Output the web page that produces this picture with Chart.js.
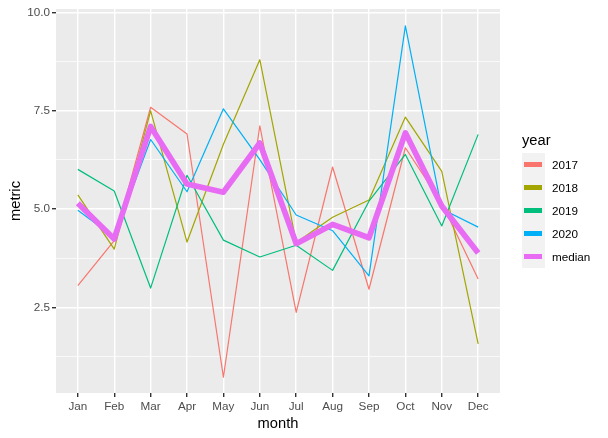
<!DOCTYPE html>
<html>
<head>
<meta charset="utf-8">
<script src="https://cdn.jsdelivr.net/npm/chart.js@4/dist/chart.umd.min.js"></script>
<style>
body { margin: 0; background: #fff; }
#wrap { position: relative; width: 608px; height: 438px; font-family: "Liberation Sans", Arial, sans-serif; }
#legendTitle { position: absolute; left: 522px; top: 132px; font-size: 14.7px; line-height: 17px; color: #000; }
#legendKeys { position: absolute; left: 522px; top: 153px; width: 23px; background: #F2F2F2; }
.key { position: relative; width: 23px; height: 23px; }
.key span { position: absolute; left: 2px; top: 9px; width: 18px; height: 5px; }
.lab { position: absolute; left: 552px; font-size: 11.7px; line-height: 14px; color: #000; }
</style>
</head>
<body>
<div id="wrap">
  <canvas id="chart" width="608" height="438"></canvas>
  <div id="legendTitle">year</div>
  <div id="legendKeys"></div>
</div>
<script>
var months = ["Jan","Feb","Mar","Apr","May","Jun","Jul","Aug","Sep","Oct","Nov","Dec"];
var seriesNames = ["2017","2018","2019","2020","median"];
var seriesColors = ["#F8766D","#A3A500","#00BF7D","#00B0F6","#E76BF3"];

var v2017 = [3.05, 4.20, 7.59, 6.91, 0.72, 7.12, 2.37, 6.07, 2.96, 6.56, 5.15, 3.22];
var v2018 = [5.36, 3.98, 7.50, 4.16, 6.65, 8.80, 4.15, 4.79, 5.23, 7.34, 5.96, 1.57];
var v2019 = [6.01, 5.46, 2.99, 5.86, 4.21, 3.78, 4.08, 3.44, 5.20, 6.39, 4.57, 6.90];
var v2020 = [4.97, 4.28, 6.77, 5.44, 7.55, 6.26, 4.85, 4.45, 3.30, 9.66, 5.00, 4.54];
var vMedian = [5.15, 4.24, 7.10, 5.64, 5.43, 6.68, 4.12, 4.61, 4.27, 6.94, 5.08, 3.88];

var yTicks = [1.25, 2.5, 3.75, 5, 6.25, 7.5, 8.75, 10];
var yMajor = [2.5, 5, 7.5, 10];

var allValues = [v2017, v2018, v2019, v2020, vMedian];
var lineWidths = [1.2, 1.2, 1.2, 1.2, 5.7];
var drawOrder = [4, 3, 2, 1, 0];

function toPoints(vals) {
    return vals.map(function (v, i) { return {x: i, y: v}; });
}

var datasets = seriesNames.map(function (name, k) {
    return {
        label: name,
        data: toPoints(allValues[k]),
        borderColor: seriesColors[k],
        backgroundColor: seriesColors[k],
        borderWidth: lineWidths[k],
        pointRadius: 0,
        tension: 0,
        fill: false,
        borderJoinStyle: "round",
        order: drawOrder[k]
    };
});

// legend in html, ggplot style
var keys = document.getElementById("legendKeys");
var wrap = document.getElementById("wrap");
seriesNames.forEach(function (name, k) {
    var key = document.createElement("div");
    key.className = "key";
    var sw = document.createElement("span");
    sw.style.background = seriesColors[k];
    key.append(sw);
    keys.append(key);
    var lab = document.createElement("div");
    lab.className = "lab";
    lab.textContent = name;
    lab.style.top = (153 + k * 23 + 11.5 - 7) + "px";
    wrap.append(lab);
});

var panelBg = {
    id: "panelBg",
    beforeDraw: function (chart) {
        var a = chart.chartArea;
        var ctx = chart.ctx;
        ctx.save();
        ctx.fillStyle = "#EBEBEB";
        ctx.fillRect(a.left, a.top, a.right - a.left, a.bottom - a.top);
        ctx.restore();
    }
};

var font = "'Liberation Sans', Arial, sans-serif";

new Chart(document.getElementById("chart"), {
    type: "line",
    data: {datasets: datasets},
    plugins: [panelBg],
    options: {
        responsive: false,
        animation: false,
        devicePixelRatio: 1,
        layout: {padding: {top: 7, right: 108, bottom: 0, left: 0}},
        plugins: {legend: {display: false}, tooltip: {enabled: false}},
        scales: {
            x: {
                type: "linear",
                min: -0.6,
                max: 11.6,
                afterBuildTicks: function (scale) {
                    scale.ticks = months.map(function (m, i) { return {value: i}; });
                },
                afterFit: function (scale) { scale.height = 45; },
                border: {display: false},
                grid: {color: "#FFFFFF", lineWidth: 1.4, tickColor: "#333333", tickLength: 4},
                ticks: {
                    autoSkip: false,
                    maxRotation: 0,
                    padding: 3,
                    color: "#4D4D4D",
                    font: {family: font, size: 11.7},
                    callback: function (v) { return months[v]; }
                },
                title: {
                    display: true,
                    text: "month",
                    color: "#000000",
                    font: {family: font, size: 14.7},
                    padding: {top: 0, bottom: 5}
                }
            },
            y: {
                type: "linear",
                min: 0.32,
                max: 10.09,
                afterBuildTicks: function (scale) {
                    scale.ticks = yTicks.map(function (v) { return {value: v}; });
                },
                afterFit: function (scale) { scale.width = 56; },
                border: {display: false},
                grid: {
                    color: "#FFFFFF",
                    lineWidth: function (c) { return yMajor.indexOf(c.tick.value) >= 0 ? 1.4 : 0.7; },
                    tickColor: function (c) { return yMajor.indexOf(c.tick.value) >= 0 ? "#333333" : "rgba(0,0,0,0)"; },
                    tickLength: 4
                },
                ticks: {
                    padding: 2,
                    color: "#4D4D4D",
                    font: {family: font, size: 11.7},
                    callback: function (v) { return yMajor.indexOf(v) >= 0 ? v.toFixed(1) : ""; }
                },
                title: {
                    display: true,
                    text: "metric",
                    color: "#000000",
                    font: {family: font, size: 14.7},
                    padding: {top: 7, bottom: 0}
                }
            }
        }
    }
});
</script>
</body>
</html>
